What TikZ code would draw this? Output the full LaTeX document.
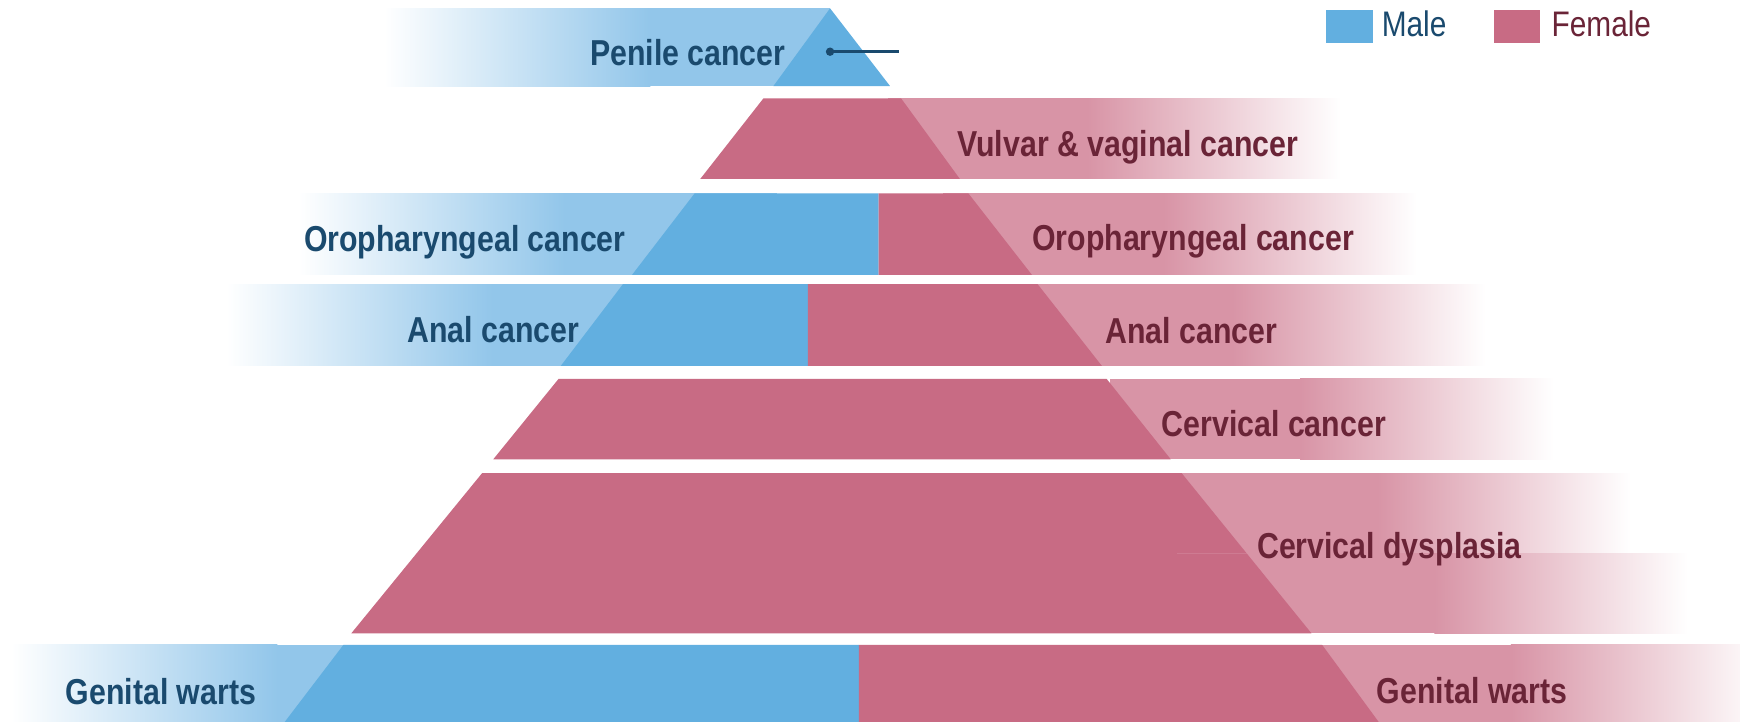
\documentclass[tikz,border=0pt]{standalone}
\usepackage{fontspec}
\setmainfont{Liberation Sans}[FakeStretch=0.84]
\definecolor{dblue}{HTML}{62AFE0}
\definecolor{lblue}{HTML}{92C6EA}
\definecolor{dpink}{HTML}{C86B84}
\definecolor{lpink}{HTML}{D894A6}
\definecolor{tblue}{HTML}{1A4A6E}
\definecolor{tpink}{HTML}{6A2437}
\newcommand\maleband[4]{%
  \shade[left color=white,right color=lblue] (#1,#3) rectangle (#1+240,#4);
  \fill[lblue] (#1+239.5,#3) rectangle (#2,#4);}
\newcommand\femband[4]{%
  \fill[lpink] (#1,#3) rectangle (#2-228,#4);
  \shade[left color=lpink,right color=white] (#2-228.5,#3) rectangle (#2,#4);}
\begin{document}
\begin{tikzpicture}[x=1pt,y=-1pt,
  mlab/.style={anchor=base east,inner sep=0pt,text=tblue,font=\fontsize{32.5}{39}\selectfont\bfseries},
  flab/.style={anchor=base west,inner sep=0pt,text=tpink,font=\fontsize{32.5}{39}\selectfont\bfseries},
  leg/.style={anchor=base west,inner sep=0pt,font=\fontsize{32}{38}\selectfont}]
\clip (0,0) rectangle (1568,650);
\fill[white] (0,0) rectangle (1568,650);
% light bands
\maleband{346}{748}{7.5}{77.5}
\femband{800}{1208}{88.6}{161.3}
\maleband{268.7}{700}{174.2}{247.8}
\femband{850}{1277}{174.2}{247.8}
\maleband{204}{650}{256}{329.8}
\femband{900}{1339}{256}{329.8}
\femband{1000}{1400}{341.5}{413.9}
\femband{1061}{1469.4}{426.3}{498.6}
\femband{1061}{1521}{498.6}{570.7}
\maleband{10}{400}{581.2}{660}
\femband{1100}{1590}{581.2}{660}
% pyramid
\fill[dblue] (748,7.5) -- (697,77.5) -- (802,77.5) -- cycle;
\fill[dpink] (688,88.6) -- (812,88.6) -- (865,161.3) -- (631,161.3) -- cycle;
\fill[dblue] (626,174.2) -- (791.7,174.2) -- (791.7,247.8) -- (569.5,247.8) -- cycle;
\fill[dpink] (791.7,174.2) -- (872.6,174.2) -- (930,247.8) -- (791.7,247.8) -- cycle;
\fill[dblue] (561.4,256) -- (728,256) -- (728,329.8) -- (505.3,329.8) -- cycle;
\fill[dpink] (728,256) -- (935,256) -- (993,329.8) -- (728,329.8) -- cycle;
\fill[dpink] (503.3,341.5) -- (997.3,341.5) -- (1055,413.9) -- (444.5,413.9) -- cycle;
\fill[dpink] (434.5,426.3) -- (1064.8,426.3) -- (1181.8,570.7) -- (316.6,570.7) -- cycle;
\draw[dpink!60!lpink,line width=0.8pt] (1061,498.6) -- (1123.4,498.6);
\fill[dblue] (309.4,581.2) -- (774,581.2) -- (774,660) -- (249.4,660) -- cycle;
\fill[dpink] (774,581.2) -- (1191.5,581.2) -- (1249.3,660) -- (774,660) -- cycle;
% pointer
\coordinate (dot) at (748,46.6);
\coordinate (lineend) at (810,46.6);
\draw[tblue,line width=2.4pt] (dot) -- (lineend);
\fill[tblue] (dot) circle[radius=3.8];
% labels
\node[mlab] (penile) at (708,58.6) {Penile cancer};
\node[flab] (vulvar) at (862.5,141.2) {Vulvar \& vaginal cancer};
\node[mlab] (orom) at (564,226.2) {Oropharyngeal cancer};
\node[flab] (orof) at (930,225.3) {Oropharyngeal cancer};
\node[mlab] (analm) at (522,308.7) {Anal cancer};
\node[flab] (analf) at (996,309.2) {Anal cancer};
\node[flab] (cervc) at (1046.8,392.9) {Cervical cancer};
\node[flab] (cervd) at (1132.7,503) {Cervical dysplasia};
\node[mlab] (gwm) at (231,635) {Genital warts};
\node[flab] (gwf) at (1240.6,634.4) {Genital warts};
% legend
\fill[dblue] (1195,9) rectangle (1237,38.5);
\node[leg,text=tblue] (male) at (1245,33) {Male};
\fill[dpink] (1346.4,9) rectangle (1387.8,38.5);
\node[leg,text=tpink] (female) at (1398,33) {Female};
\end{tikzpicture}
\end{document}
